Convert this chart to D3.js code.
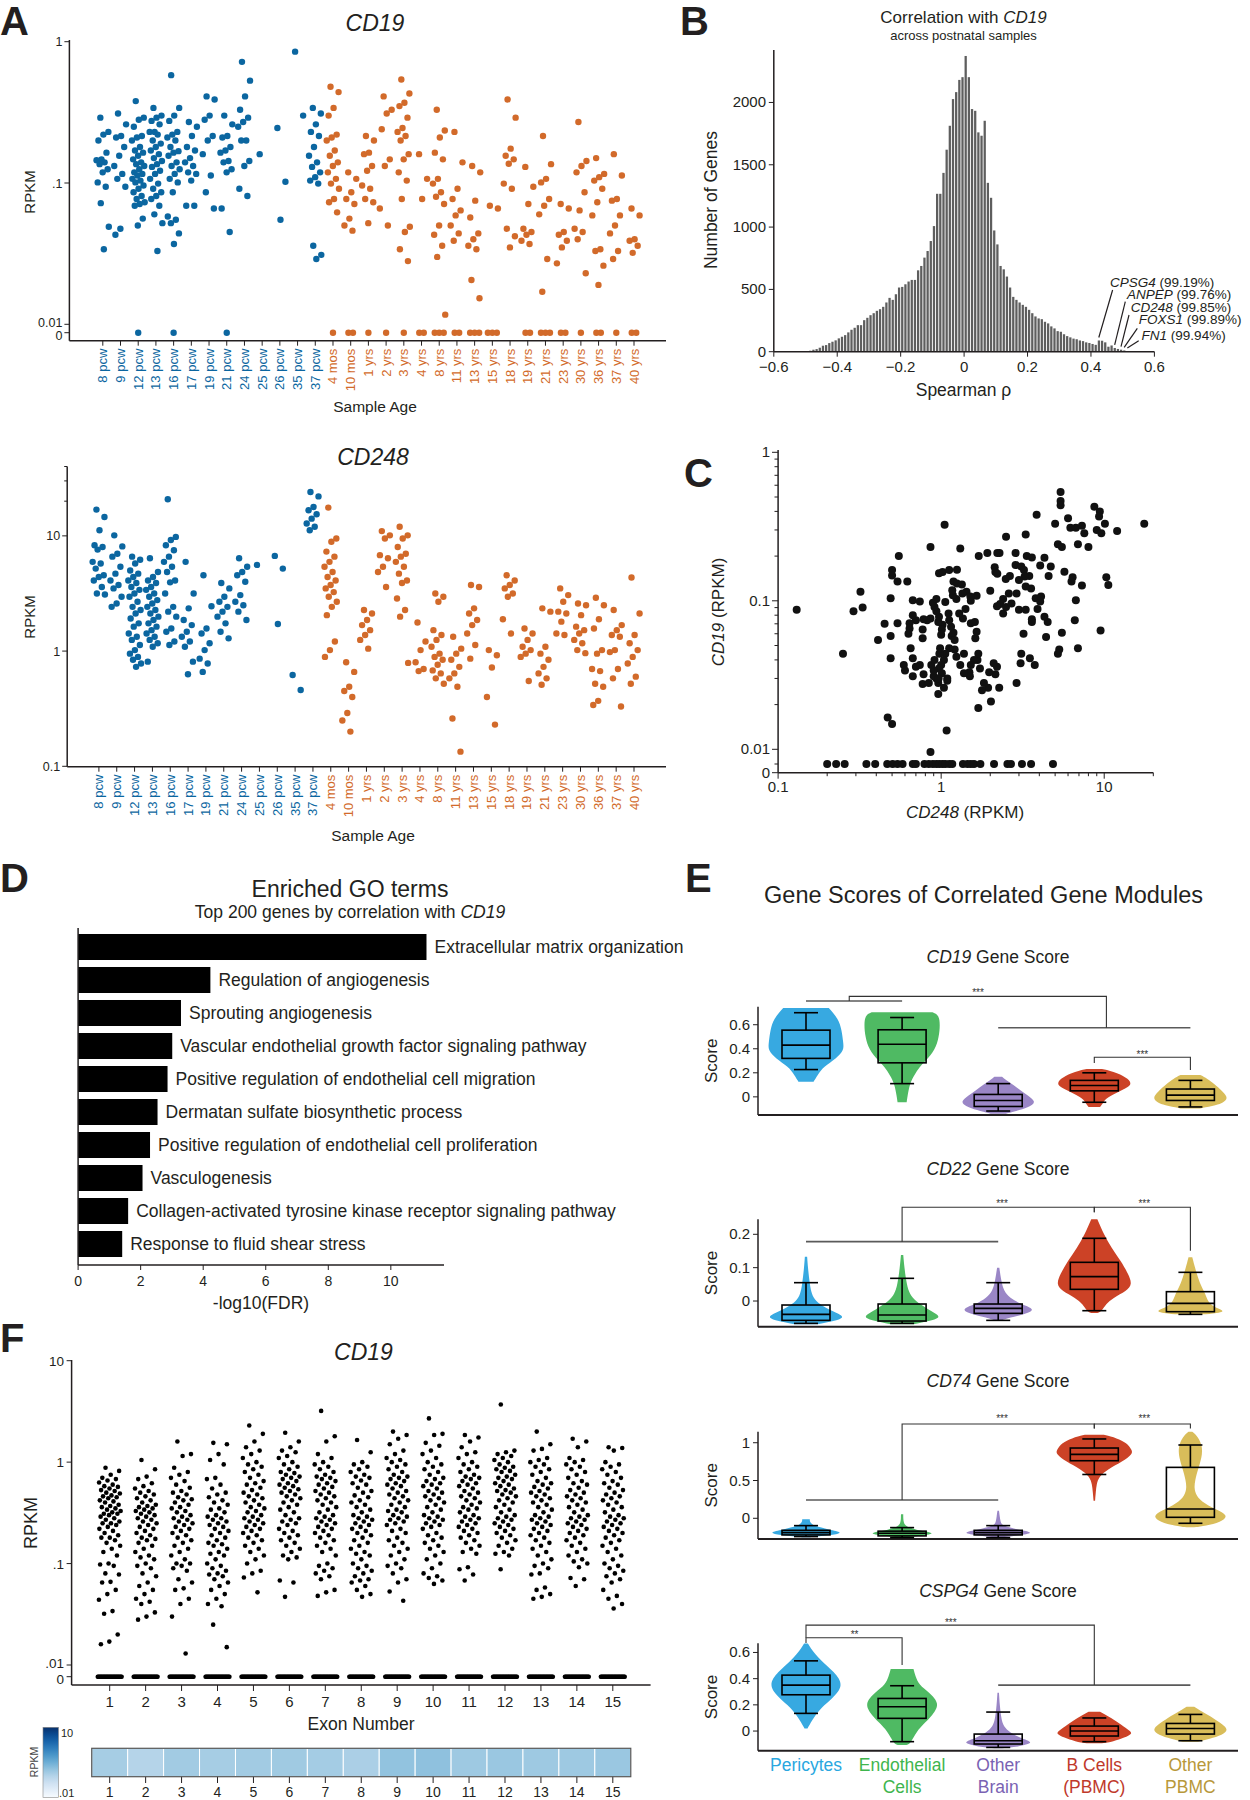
<!DOCTYPE html>
<html><head><meta charset="utf-8">
<script src="https://cdn.jsdelivr.net/npm/d3@7"></script>
<style>html,body{margin:0;padding:0;background:#fff;}svg{display:block;font-family:"Liberation Sans",Arial,Helvetica,sans-serif;}</style>
</head><body>
<svg id="fig" width="1250" height="1800"></svg>
<script>
// ===================== DATA =====================
const ageLabels=["8 pcw","9 pcw","12 pcw","13 pcw","16 pcw","17 pcw","19 pcw","21 pcw","24 pcw","25 pcw","26 pcw","35 pcw","37 pcw","4 mos","10 mos","1 yrs","2 yrs","3 yrs","4 yrs","8 yrs","11 yrs","13 yrs","15 yrs","18 yrs","19 yrs","21 yrs","23 yrs","30 yrs","36 yrs","37 yrs","40 yrs"];
const cd19ByAge=[
[0.29,0.23,0.22,0.20,0.164,0.147,0.145,0.14,0.136,0.125,0.119,0.101,0.094,0.072,0.049,0.034],
[0.31,0.26,0.215,0.21,0.18,0.156,0.132,0.116,0.107,0.094,0.0475,0.043],
[0.38,0.29,0.28,0.25,0.215,0.21,0.20,0.18,0.17,0.164,0.156,0.147,0.14,0.136,0.132,0.125,0.119,0.116,0.113,0.107,0.104,0.101,0.096,0.091,0.086,0.081,0.077,0.073,0.071,0.069,0.056,0.05],
[0.34,0.30,0.29,0.275,0.26,0.23,0.23,0.22,0.20,0.19,0.18,0.17,0.16,0.15,0.143,0.136,0.13,0.122,0.116,0.107,0.099,0.091,0.086,0.081,0.077,0.069,0.06,0.052,0.033],
[0.58,0.34,0.30,0.275,0.23,0.22,0.21,0.20,0.18,0.168,0.164,0.156,0.14,0.132,0.125,0.116,0.107,0.101,0.086,0.058,0.055,0.052,0.044,0.037],
[0.27,0.25,0.215,0.18,0.17,0.15,0.14,0.132,0.119,0.116,0.104,0.069,0.069],
[0.41,0.39,0.30,0.28,0.215,0.20,0.16,0.113,0.086,0.066],
[0.30,0.26,0.215,0.21,0.18,0.17,0.164,0.143,0.14,0.125,0.119,0.066,0.045],
[0.72,0.53,0.41,0.33,0.29,0.27,0.25,0.20,0.20,0.143,0.132,0.091,0.081],
[0.16],
[0.245,0.102,0.055],
[0.85,0.30],
[0.34,0.31,0.26,0.23,0.215,0.18,0.156,0.14,0.13,0.119,0.11,0.104,0.099,0.036,0.031,0.029],
[0.48,0.44,0.34,0.30,0.22,0.21,0.20,0.17,0.156,0.14,0.132,0.119,0.107,0.099,0.091,0.077,0.073,0.062],
[0.119,0.107,0.086,0.077,0.071,0.056,0.05,0.046],
[0.215,0.20,0.164,0.16,0.132,0.122,0.096,0.091,0.077,0.073,0.052],
[0.41,0.33,0.31,0.24,0.147,0.132,0.066,0.05],
[0.54,0.43,0.37,0.35,0.29,0.245,0.23,0.215,0.20,0.16,0.147,0.119,0.104,0.077,0.049,0.045,0.034,0.028],
[0.16,0.107,0.077],
[0.33,0.235,0.21,0.164,0.147,0.107,0.099,0.086,0.08,0.071,0.05,0.043,0.036,0.03,0.0117],
[0.23,0.14,0.091,0.077,0.064,0.059,0.05,0.044,0.039],
[0.132,0.119,0.075,0.057,0.044,0.04,0.036,0.034,0.0206,0.0153],
[0.069,0.066],
[0.39,0.29,0.175,0.156,0.147,0.137,0.099,0.091,0.0475,0.042,0.035],
[0.13,0.094,0.071,0.0475,0.045,0.043,0.039,0.037],
[0.215,0.136,0.107,0.101,0.077,0.069,0.06,0.029,0.017],
[0.071,0.066,0.045,0.043,0.039,0.035,0.027],
[0.27,0.143,0.132,0.119,0.086,0.064,0.0475,0.045,0.04,0.023],
[0.15,0.116,0.11,0.104,0.091,0.073,0.059,0.034,0.033,0.026,0.019],
[0.16,0.113,0.077,0.075,0.059,0.05,0.044,0.033,0.029],
[0.066,0.059,0.04,0.039,0.036,0.032]];
const cd19ZeroCounts=[0,0,1,0,1,0,0,1,0,0,0,0,0,1,2,1,1,1,2,3,2,3,3,0,2,3,2,1,2,1,2];
const cd248ByAge=[
[16.9,14.6,11.2,8.3,8.0,7.6,5.95,5.75,5.2,4.55,4.4,4.1,3.6,3.16,3.1],
[10.1,8.1,7.0,6.6,5.4,4.7,4.1,3.75,3.5,2.96,2.59,2.42],
[6.6,6.2,5.75,5.0,4.7,4.4,4.1,3.9,3.6,3.4,3.16,2.96,2.68,2.42,2.27,2.12,1.92,1.74,1.63,1.42,1.33,1.25,1.13,1.02,0.95,0.89,0.84,0.78,0.73],
[6.4,4.85,4.4,4.1,3.9,3.6,3.4,3.16,2.96,2.77,2.59,2.42,2.27,2.12,1.99,1.86,1.74,1.63,1.52,1.42,1.33,1.25,1.17,1.09,0.81],
[20.8,9.8,9.2,8.3,7.5,6.6,5.95,5.4,4.85,4.1,3.95,3.16,2.42,2.2,1.99,1.57,1.47,1.21,1.13],
[5.95,3.16,2.35,1.86,1.68,1.47,1.33,1.21,1.09,0.81,0.63],
[4.55,2.45,1.57,1.42,1.17,1.02,0.86,0.78,0.66],
[3.9,3.5,2.96,2.68,2.42,2.2,1.99,1.74,1.47,1.29],
[6.4,5.4,4.85,4.55,4.0,3.06,2.68,2.5,2.2,1.86],
[5.6],
[6.7,5.2,1.72],
[0.62,0.46],
[24.0,22.0,17.8,16.7,15.4,14.1,12.8,12.0,11.2],
[17.6,9.5,8.9,7.3,6.6,5.95,5.4,4.85,4.4,4.1,3.75,3.5,3.25,2.96,2.68,2.42,2.05,1.21,1.02,0.89],
[0.80,0.66,0.49,0.45,0.40,0.29,0.25,0.20],
[2.27,2.12,1.86,1.68,1.52,1.38,1.25,1.05],
[11.0,10.1,9.5,6.8,6.4,5.4,4.85,3.6],
[12.0,10.1,9.5,8.0,7.0,6.6,5.95,5.4,4.7,4.1,3.9,2.86,2.27,1.99,0.79],
[1.77,1.21,1.02,0.80,0.70,0.67],
[3.16,2.96,2.68,1.52,1.38,1.25,1.09,0.95,0.89,0.84,0.76,0.68,0.64,0.58,0.52],
[1.33,1.05,0.95,0.84,0.73,0.64,0.58,0.49,0.26,0.134],
[3.75,3.6,2.35,2.12,1.86,1.68,1.42,1.13,0.86],
[1.02,0.92,0.72,0.40,0.23],
[4.55,4.1,3.75,3.5,3.16,2.96,1.89,1.42],
[1.57,1.42,1.25,1.09,1.02,0.95,0.89,0.55],
[2.35,2.2,1.09,0.95,0.84,0.73,0.64,0.58,0.51],
[3.5,3.06,2.68,2.2,2.12,1.8,1.42,1.38],
[2.59,2.5,2.05,1.63,1.52,1.42,1.25,1.17,1.02,0.96],
[2.9,2.5,1.89,1.57,1.02,0.95,0.70,0.67,0.52,0.49,0.37,0.34],
[2.27,1.68,1.52,1.38,1.33,1.02,0.98,0.70,0.58,0.33],
[4.35,2.12,1.38,1.17,1.02,0.89,0.78,0.60,0.52]];

const rhoBinStart=[-0.50,-0.49,-0.48,-0.47,-0.46,-0.45,-0.44,-0.43,-0.42,-0.41,-0.40,-0.39,-0.38,-0.37,-0.36,-0.35,-0.34,-0.33,-0.32,-0.31,-0.30,-0.29,-0.28,-0.27,-0.26,-0.25,-0.24,-0.23,-0.22,-0.21,-0.20,-0.19,-0.18,-0.17,-0.16,-0.15,-0.14,-0.13,-0.12,-0.11,-0.10,-0.09,-0.08,-0.07,-0.06,-0.05,-0.04,-0.03,-0.02,-0.01,0.00,0.01,0.02,0.03,0.04,0.05,0.06,0.07,0.08,0.09,0.10,0.11,0.12,0.13,0.14,0.15,0.16,0.17,0.18,0.19,0.20,0.21,0.22,0.23,0.24,0.25,0.26,0.27,0.28,0.29,0.30,0.31,0.32,0.33,0.34,0.35,0.36,0.37,0.38,0.39,0.40,0.41,0.42,0.43,0.44,0.45,0.46,0.47,0.48,0.49,0.50,0.51];
const geneCounts=[4,8,16,21,32,48,53,69,80,91,107,120,133,155,176,192,213,213,253,272,293,309,328,341,360,395,432,416,461,515,520,541,563,576,576,653,688,755,808,888,1008,1267,1267,1435,1621,1813,2027,2083,2181,2203,2373,2203,1947,1933,1760,1733,1853,1355,1235,973,861,688,661,603,515,440,416,395,376,360,336,309,283,267,261,240,227,203,187,165,160,140,125,115,105,100,90,85,75,70,62,55,90,88,75,40,50,30,22,16,10,5];
const annoGenes=["CPSG4","ANPEP","CD248","FOXS1","FN1"];
const annoPct=["(99.19%)","(99.76%)","(99.85%)","(99.89%)","(99.94%)"];
const annoRho=[0.42,0.47,0.49,0.50,0.51];

const cd248Rpkm=[5.4,5.4,5.4,3.85,5.0,6.0,6.2,6.7,7.3,7.55,8.7,9.4,9.3,10.1,9.0,9.6,12.0,17.6,6.9,5.2,5.5,8.0,2.5,3.3,1.31,1.05,0.86,0.55,1.70,1.92,2.28,2.21,2.86,3.35,3.6,4.3,4.7,4.05,2.13,2.86,3.1,2.15,2.21,2.64,3.47,4.56,3.22,2.49,5.7,6.4,6.3,7.3,10.3,10.6,6.7,6.6,9.5,5.5,5.3,5.2,6.9,4.4,4.5,4.3,3.9,4.05,3.8,4.1,3.56,3.3,3.25,3.0,2.9,2.6,2.4,2.3,2.2,2.0,2.4,2.5,2.7,3.0,3.3,3.6,3.6,3.2,3.1,3.07,3.5,3.75,2.9,2.27,2.15,2.2,2.1,1.97,1.94,1.78,1.69,2.02,1.83,1.73,1.67,1.59,1.52,1.49,1.50,1.38,1.31,1.24,1.21,1.12,1.06,1.04,1.0,0.97,1.01,1.09,0.96,0.935,0.90,0.90,0.87,0.91,0.975,0.985,1.16,1.19,1.36,1.29,1.41,1.52,1.65,1.52,1.61,1.62,1.65,1.69,1.38,1.21,1.15,1.12,1.02,1.01,1.0,0.96,0.97,0.935,0.91,0.89,0.935,0.97,1.02,1.12,1.25,1.19,1.25,1.34,1.43,1.51,1.35,1.24,1.18,1.17,1.11,1.06,0.86,0.82,0.78,0.77,0.77,0.67,0.74,0.70,0.67,0.64,0.64,0.63,0.65,0.67,0.59,0.60,0.67,0.77,0.78,0.84,0.965,1.09,1.04,0.96,0.74,0.70,0.62,0.54,0.50,0.50,0.49,0.54,0.49,0.49,0.45,0.41,0.33,0.32,0.29,0.25,0.13,0.47,0.50,1.08,0.86];
const cd19Rpkm=[0.54,0.47,0.44,0.38,0.33,0.36,0.31,0.31,0.32,0.285,0.43,0.40,0.37,0.33,0.30,0.285,0.295,0.33,0.24,0.24,0.23,0.23,0.27,0.28,0.225,0.325,0.23,0.20,0.20,0.21,0.21,0.21,0.21,0.20,0.196,0.195,0.17,0.173,0.168,0.174,0.17,0.156,0.152,0.147,0.147,0.147,0.161,0.14,0.157,0.144,0.135,0.127,0.144,0.128,0.101,0.074,0.063,0.061,0.047,0.044,0.048,0.057,0.072,0.078,0.088,0.099,0.104,0.107,0.121,0.125,0.146,0.138,0.112,0.112,0.103,0.095,0.092,0.117,0.082,0.091,0.096,0.087,0.087,0.075,0.072,0.060,0.044,0.038,0.041,0.037,0.028,0.026,0.032,0.036,0.038,0.033,0.026,0.025,0.019,0.021,0.028,0.035,0.040,0.040,0.037,0.033,0.031,0.0325,0.037,0.042,0.047,0.048,0.044,0.040,0.037,0.035,0.0325,0.030,0.028,0.030,0.031,0.034,0.037,0.040,0.044,0.048,0.058,0.061,0.076,0.082,0.088,0.100,0.108,0.0705,0.072,0.056,0.062,0.044,0.044,0.0545,0.067,0.074,0.069,0.064,0.059,0.072,0.078,0.085,0.091,0.097,0.103,0.153,0.156,0.161,0.162,0.135,0.131,0.129,0.115,0.107,0.112,0.103,0.109,0.118,0.082,0.098,0.076,0.074,0.075,0.064,0.056,0.101,0.099,0.074,0.080,0.0705,0.065,0.060,0.048,0.041,0.037,0.034,0.031,0.0275,0.032,0.028,0.030,0.029,0.026,0.0236,0.037,0.036,0.135,0.135,0.161,0.148,0.104,0.0705,0.058,0.041,0.070,0.0545,0.090,0.115,0.085,0.044,0.087,0.0164,0.0148,0.0134,0.0096];
const cd248AtZeroCd19=[0.20,0.227,0.256,0.348,0.394,0.467,0.504,0.54,0.58,0.67,0.70,0.79,0.84,0.89,0.935,0.975,1.02,1.06,1.12,1.17,1.36,1.45,1.52,1.59,1.74,2.11,2.55,2.68,3.13,3.56,4.85];

const goTerms=["Extracellular matrix organization","Regulation of angiogenesis","Sprouting angiogenesis","Vascular endothelial growth factor signaling pathway","Positive regulation of endothelial cell migration","Dermatan sulfate biosynthetic process","Positive regulation of endothelial cell proliferation","Vasculogenesis","Collagen-activated tyrosine kinase receptor signaling pathway","Response to fluid shear stress"];
const goLogFdr=[11.14,4.23,3.29,3.01,2.86,2.54,2.30,2.06,1.60,1.41];

const cellGroups=["Pericytes","Endothelial Cells","Other Brain","B Cells (PBMC)","Other PBMC"];
const groupLabelLines=[["Pericytes"],["Endothelial","Cells"],["Other","Brain"],["B Cells","(PBMC)"],["Other","PBMC"]];
const groupFill=["#37a9e1","#4fba63","#9a86c6","#cc4226","#d9bd5a"];
const groupText=["#2aa7df","#3fb54d","#7a62b3","#c0392b","#b8983a"];
const moduleGenes=["CD19","CD22","CD74","CSPG4"];
// box stats: [lowWhisker, q1, median, q3, highWhisker]
const cd19ScoreBox=[[0.227,0.32,0.43,0.555,0.70],[0.11,0.283,0.437,0.558,0.66],[-0.118,-0.08,-0.03,0.02,0.11],[-0.045,0.05,0.095,0.137,0.20],[-0.084,-0.03,0.014,0.065,0.137]];
const cd22ScoreBox=[[-0.067,-0.058,-0.04,-0.012,0.055],[-0.067,-0.06,-0.042,-0.009,0.068],[-0.058,-0.037,-0.022,-0.009,0.055],[-0.029,0.035,0.073,0.116,0.188],[-0.04,-0.032,-0.007,0.028,0.086]];
const cd74ScoreBox=[[-0.242,-0.22,-0.19,-0.159,-0.097],[-0.255,-0.233,-0.198,-0.17,-0.123],[-0.255,-0.22,-0.19,-0.159,-0.097],[0.58,0.762,0.846,0.93,1.05],[-0.066,0.013,0.123,0.674,0.97]];
const cspg4ScoreBox=[[0.135,0.277,0.351,0.427,0.536],[-0.081,0.097,0.186,0.249,0.346],[-0.125,-0.099,-0.074,-0.023,0.145],[-0.081,-0.038,0,0.038,0.10],[-0.074,-0.023,0.02,0.058,0.127]];
// violin outlines: [score, relative density]
const cd19ScoreViolin=[
[[0.74,0.6],[0.65,0.85],[0.556,0.94],[0.45,0.98],[0.39,1.0],[0.32,0.8],[0.25,0.46],[0.18,0.3],[0.126,0.2]],
[[0.703,0.8],[0.68,0.97],[0.6,1.0],[0.5,0.97],[0.39,0.87],[0.3,0.62],[0.25,0.46],[0.18,0.32],[0.11,0.2],[0.0,0.14],[-0.045,0.12]],
[[0.168,0.1],[0.14,0.2],[0.1,0.4],[0.05,0.6],[0.015,0.77],[-0.04,1.0],[-0.08,0.85],[-0.11,0.57],[-0.14,0.2]],
[[0.232,0.2],[0.2,0.62],[0.15,0.9],[0.1,1.0],[0.06,0.75],[0.017,0.48],[-0.025,0.26],[-0.06,0.22],[-0.085,0.15]],
[[0.182,0.26],[0.15,0.45],[0.112,0.61],[0.043,0.86],[-0.012,1.0],[-0.05,0.85],[-0.068,0.7],[-0.096,0.26]]];
const cd22ScoreViolin=[
[[0.133,0.03],[0.1,0.05],[0.05,0.1],[0.02,0.15],[0,0.25],[-0.02,0.5],[-0.04,0.9],[-0.05,1.0],[-0.06,0.75],[-0.07,0.3]],
[[0.138,0.03],[0.1,0.06],[0.05,0.12],[0.02,0.2],[0,0.35],[-0.02,0.62],[-0.04,0.92],[-0.05,1.0],[-0.06,0.72],[-0.07,0.3]],
[[0.10,0.03],[0.06,0.08],[0.03,0.15],[0.01,0.3],[-0.01,0.6],[-0.025,1.0],[-0.04,0.7],[-0.05,0.3],[-0.058,0.08]],
[[0.245,0.08],[0.2,0.25],[0.16,0.45],[0.12,0.7],[0.08,0.9],[0.05,1.0],[0.03,0.85],[0.01,0.5],[-0.01,0.3],[-0.03,0.2],[-0.036,0.08]],
[[0.131,0.05],[0.1,0.12],[0.07,0.2],[0.04,0.3],[0.02,0.4],[0,0.45],[-0.02,0.62],[-0.032,1.0],[-0.04,0.4]]];
const cd74ScoreViolin=[
[[-0.013,0.1],[-0.05,0.1],[-0.1,0.2],[-0.15,0.6],[-0.19,1.0],[-0.22,0.7],[-0.25,0.1]],
[[0.053,0.03],[0.0,0.03],[-0.05,0.04],[-0.1,0.08],[-0.15,0.3],[-0.2,1.0],[-0.24,0.35],[-0.25,0.1]],
[[0.1,0.02],[0.03,0.04],[-0.05,0.06],[-0.1,0.12],[-0.15,0.5],[-0.19,1.0],[-0.23,0.5],[-0.25,0.1]],
[[1.106,0.25],[1.06,0.6],[1.0,0.85],[0.9,1.0],[0.85,1.0],[0.75,0.75],[0.65,0.35],[0.55,0.12],[0.45,0.06],[0.35,0.04],[0.233,0.02]],
[[1.145,0.05],[1.08,0.2],[0.95,0.32],[0.8,0.3],[0.65,0.2],[0.5,0.12],[0.4,0.1],[0.3,0.15],[0.2,0.35],[0.1,0.75],[0.03,1.0],[-0.05,0.8],[-0.1,0.4],[-0.12,0.1]]];
const cspg4ScoreViolin=[
[[0.669,0.05],[0.62,0.15],[0.55,0.35],[0.45,0.75],[0.35,1.0],[0.25,0.7],[0.18,0.4],[0.1,0.2],[0.05,0.1],[0.02,0.04]],
[[0.473,0.3],[0.42,0.35],[0.35,0.45],[0.3,0.7],[0.21,1.0],[0.12,0.8],[0.05,0.55],[0,0.4],[-0.05,0.3],[-0.1,0.2],[-0.107,0.1]],
[[0.292,0.02],[0.2,0.04],[0.1,0.08],[0.05,0.12],[0,0.25],[-0.05,0.55],[-0.09,1.0],[-0.12,0.5],[-0.132,0.1]],
[[0.147,0.15],[0.1,0.45],[0.05,0.7],[0,0.95],[-0.02,1.0],[-0.05,0.8],[-0.08,0.5],[-0.094,0.2]],
[[0.186,0.1],[0.15,0.3],[0.1,0.6],[0.05,0.85],[0.01,1.0],[-0.03,0.85],[-0.06,0.5],[-0.081,0.2]]];
const cd19ScoreTicks=[0,0.2,0.4,0.6], cd22ScoreTicks=[0,0.1,0.2], cd74ScoreTicks=[0,0.5,1], cspg4ScoreTicks=[0,0.2,0.4,0.6];

const exonLabels=["1","2","3","4","5","6","7","8","9","10","11","12","13","14","15"];
const exonRpkm=[
[.88,.82,.75,.7,.68,.66,.63,.6,.58,.57,.55,.53,.52,.5,.49,.47,.46,.45,.44,.42,.41,.4,.38,.37,.36,.35,.34,.33,.32,.31,.31,.3,.29,.28,.27,.26,.25,.25,.24,.23,.22,.21,.2,.19,.18,.18,.17,.16,.15,.14,.13,.12,.1,.098,.095,.08,.078,.066,.065,.055,.05,.044,.034,.032,.02,.017,.016],
[1.05,.85,.72,.68,.62,.58,.55,.52,.5,.48,.46,.44,.42,.4,.38,.37,.36,.35,.34,.33,.32,.31,.3,.29,.28,.27,.26,.25,.24,.23,.22,.21,.2,.19,.18,.175,.17,.16,.15,.14,.13,.12,.115,.11,.1,.095,.09,.08,.075,.065,.06,.055,.05,.045,.042,.04,.033,.03,.028],
[1.6,1.2,1.15,.88,.8,.75,.7,.65,.6,.56,.52,.5,.48,.45,.43,.42,.4,.38,.36,.35,.33,.32,.3,.29,.28,.27,.26,.25,.24,.23,.22,.21,.2,.19,.18,.17,.16,.15,.14,.13,.12,.11,.1,.1,.095,.09,.085,.07,.065,.057,.055,.045,.04,.03,.013],
[1.55,1.5,1.2,1.05,.95,.7,.68,.6,.55,.5,.48,.45,.42,.4,.38,.35,.34,.32,.3,.29,.28,.27,.26,.25,.24,.23,.22,.21,.2,.19,.18,.17,.16,.155,.15,.14,.13,.125,.12,.11,.1,.095,.09,.085,.08,.078,.075,.07,.065,.06,.055,.05,.045,.04,.038,.025,.015],
[2.3,1.9,1.6,1.4,1.3,1.2,1.1,1.0,.95,.9,.85,.8,.75,.7,.65,.62,.6,.56,.53,.5,.48,.46,.44,.42,.4,.38,.36,.35,.33,.32,.3,.29,.28,.27,.26,.25,.24,.23,.22,.21,.2,.19,.18,.17,.16,.15,.14,.13,.12,.11,.1,.085,.08,.073,.052],
[1.95,1.6,1.4,1.3,1.25,1.15,1.1,1.0,.95,.9,.85,.8,.78,.75,.72,.7,.68,.65,.62,.6,.58,.56,.54,.52,.5,.48,.46,.44,.42,.4,.38,.36,.34,.32,.3,.28,.27,.26,.25,.24,.22,.21,.2,.19,.18,.17,.16,.15,.14,.13,.12,.115,.11,.068,.065,.047],
[3.2,1.8,1.6,1.2,1.1,1.0,.95,.9,.85,.8,.75,.72,.7,.68,.65,.62,.6,.57,.55,.52,.5,.48,.46,.44,.42,.4,.38,.36,.34,.32,.3,.29,.28,.27,.26,.25,.24,.23,.22,.21,.2,.19,.18,.17,.16,.15,.14,.13,.12,.1,.095,.09,.085,.08,.075,.07,.055,.052,.048],
[1.65,1.25,1.0,.95,.9,.85,.8,.75,.72,.7,.66,.62,.6,.56,.52,.5,.47,.45,.42,.4,.38,.36,.34,.32,.3,.29,.28,.27,.26,.25,.24,.23,.22,.21,.2,.19,.18,.17,.16,.15,.14,.13,.125,.12,.11,.1,.095,.09,.085,.08,.075,.07,.068,.065,.06,.055,.05,.047],
[2.0,1.85,1.7,1.5,1.3,1.2,1.1,1.05,1.0,.95,.9,.85,.8,.75,.72,.7,.68,.65,.62,.6,.58,.55,.52,.5,.48,.46,.44,.42,.4,.38,.36,.34,.33,.32,.3,.29,.28,.27,.26,.25,.24,.22,.21,.2,.18,.17,.16,.15,.14,.13,.12,.11,.1,.095,.09,.08,.07,.065,.053,.043],
[2.7,1.9,1.85,1.55,1.45,1.3,1.2,1.1,1.0,.95,.9,.85,.8,.75,.7,.68,.65,.62,.6,.58,.55,.52,.5,.48,.46,.44,.42,.4,.38,.36,.34,.32,.3,.29,.28,.27,.26,.25,.24,.23,.22,.2,.19,.18,.17,.16,.15,.14,.13,.12,.11,.1,.09,.08,.075,.072,.068,.063],
[1.85,1.75,1.6,1.4,1.25,1.2,1.1,1.0,.95,.9,.85,.8,.75,.72,.7,.68,.65,.62,.6,.58,.55,.52,.5,.48,.46,.44,.42,.4,.38,.36,.35,.34,.32,.3,.29,.28,.27,.26,.25,.24,.23,.22,.21,.2,.19,.18,.17,.16,.15,.14,.13,.125,.092,.088,.078,.068],
[3.7,1.3,1.25,1.2,1.15,1.1,1.05,1.0,.95,.9,.88,.85,.82,.8,.75,.72,.7,.68,.65,.62,.6,.58,.55,.53,.52,.5,.48,.46,.44,.42,.4,.38,.36,.34,.32,.3,.29,.28,.27,.26,.25,.24,.23,.22,.21,.2,.19,.18,.17,.16,.15,.14,.13,.125,.12,.088],
[2.0,1.5,1.35,1.3,1.1,1.05,1.0,.95,.9,.85,.8,.75,.7,.65,.62,.6,.57,.55,.52,.5,.48,.46,.44,.42,.4,.38,.36,.34,.32,.3,.29,.28,.27,.26,.25,.24,.23,.22,.21,.2,.19,.18,.17,.16,.15,.14,.13,.12,.11,.1,.095,.09,.08,.078,.058,.055,.05,.047,.045],
[1.7,1.6,1.4,1.1,1.05,1.0,.95,.9,.85,.8,.75,.7,.65,.62,.6,.56,.53,.5,.48,.46,.44,.42,.4,.38,.36,.34,.32,.3,.29,.28,.27,.26,.25,.24,.23,.22,.21,.2,.19,.18,.17,.16,.15,.14,.13,.12,.11,.105,.1,.092,.072,.07,.06],
[1.4,1.38,1.3,1.0,.95,.9,.85,.8,.75,.7,.65,.62,.6,.56,.53,.5,.48,.46,.44,.42,.4,.38,.36,.34,.32,.3,.29,.28,.27,.26,.25,.24,.23,.22,.21,.2,.19,.18,.17,.16,.15,.14,.13,.12,.11,.1,.095,.09,.085,.08,.075,.07,.065,.055,.048,.045,.04,.036]];
const exonZeroCounts=[30,30,30,30,30,30,30,30,32,30,32,30,30,30,30];
const exonHeat=[0.11,0.08,0.12,0.11,0.12,0.125,0.115,0.10,0.16,0.17,0.13,0.14,0.13,0.13,0.14];

// ===================== DRAWING =====================
const svg=d3.select("#fig");
svg.append("rect").attr("width",1250).attr("height",1800).attr("fill","#fff");
const INK="#231f20", BLUE="#0b66a0", ORANGE="#d26a2a";
const GOLD=0.6180339887;
const jit=(i,w)=>(((i*GOLD+0.31)%1)-0.5)*w;
function T(g,x,y,parts,size,o={}){
  const t=g.append("text").attr("x",x).attr("y",y).attr("font-size",size)
    .attr("text-anchor",o.anchor||"start").attr("fill",o.fill||INK);
  if(o.weight) t.attr("font-weight",o.weight);
  if(o.transform) t.attr("transform",o.transform);
  if(typeof parts==="string") parts=[[parts,false]];
  parts.forEach(([s,it])=>{const ts=t.append("tspan").text(s); if(it) ts.attr("font-style","italic");});
  return t;
}
function L(g,x1,y1,x2,y2,stroke=INK,w=1){
  return g.append("line").attr("x1",x1).attr("y1",y1).attr("x2",x2).attr("y2",y2).attr("stroke",stroke).attr("stroke-width",w);
}
// panel letters
[["A",0,35],["B",680,35],["C",684,487],["D",0,892],["E",685,892],["F",0,1352]].forEach(([s,x,y])=>T(svg,x,y,s,40,{weight:"bold"}));

// ---------- Panel A ----------
function drawAge(o){
  const g=svg.append("g");
  const x=d3.scalePoint().domain(ageLabels).range(o.xRange);
  const y=d3.scaleLog().domain(o.yDomain).range(o.yRange);
  L(g,o.axX,o.top,o.axX,o.bottom,INK,1.5);
  L(g,o.axX,o.bottom,o.right,o.bottom,INK,1.5);
  o.yTicks.forEach((v,i)=>{const yy=y(v);L(g,o.axX-5,yy,o.axX,yy);T(g,o.axX-7,yy+(v===0.01?2.5:4.5),o.yTickLabels[i],12.5,{anchor:"end"});});
  (o.minor||[]).forEach(v=>L(g,o.axX-3,y(v),o.axX,y(v)));
  if(o.zeroY!=null){L(g,o.axX-5,o.zeroY,o.axX,o.zeroY);T(g,o.axX-7,o.zeroY+7,"0",12.5,{anchor:"end"});}
  ageLabels.forEach((lab,ci)=>{
    const c=lab.includes("pcw")?BLUE:ORANGE, cx=x(lab);
    L(g,cx,o.bottom,cx,o.bottom+5);
    T(g,0,0,lab,13,{anchor:"end",fill:c,transform:`translate(${cx+4.5},${o.bottom+8}) rotate(-90)`});
    o.data[ci].forEach((v,i)=>g.append("circle").attr("cx",cx+jit(i,o.jw)).attr("cy",y(v)).attr("r",3.2).attr("fill",c));
    const nz=o.zeros?o.zeros[ci]:0;
    for(let j=0;j<nz;j++) g.append("circle").attr("cx",cx+(j-(nz-1)/2)*4.5).attr("cy",o.zeroY).attr("r",3.2).attr("fill",c);
  });
  T(g,o.titleX,o.titleY,[[o.title,true]],23,{anchor:"middle"});
  T(g,o.titleX,o.xTitleY,"Sample Age",15.5,{anchor:"middle"});
  T(g,0,0,"RPKM",15,{anchor:"middle",transform:`translate(35,${o.yTitleY}) rotate(-90)`});
}
drawAge({data:cd19ByAge,zeros:cd19ZeroCounts,xRange:[102.8,634],yDomain:[0.01,1],yRange:[324.3,41.7],
  axX:69.4,top:40,bottom:340.7,right:666,yTicks:[1,0.1,0.01],yTickLabels:["1",".1","0.01"],zeroY:332.7,jw:13,
  title:"CD19",titleX:375,titleY:31,xTitleY:412,yTitleY:192});
drawAge({data:cd248ByAge,xRange:[98.9,634],yDomain:[0.1,40],yRange:[766.3,466.5],
  axX:67.2,top:466.5,bottom:766.7,right:666,yTicks:[10,1,0.1],yTickLabels:["10","1","0.1"],minor:[20,30,40],jw:13,
  title:"CD248",titleX:373,titleY:465,xTitleY:841,yTitleY:617});

// ---------- Panel B ----------
(function(){
  const g=svg.append("g");
  const x=d3.scaleLinear().domain([-0.6,0.6]).range([773.8,1154.4]);
  const y=d3.scaleLinear().domain([0,2421]).range([351.7,50]);
  rhoBinStart.forEach((b,i)=>{
    const x0=x(b), x1=x(b+0.01);
    g.append("rect").attr("x",x0+0.45).attr("width",Math.max(0.5,x1-x0-0.9)).attr("y",y(geneCounts[i])).attr("height",y(0)-y(geneCounts[i])).attr("fill","#5e5e5e");
  });
  L(g,773.8,50,773.8,351.7,INK,1.5);
  L(g,773.8,351.7,1154.4,351.7,INK,1.5);
  [0,500,1000,1500,2000].forEach(v=>{L(g,768.8,y(v),773.8,y(v));T(g,766,y(v)+5,String(v),15,{anchor:"end"});});
  [-0.6,-0.4,-0.2,0,0.2,0.4,0.6].forEach(v=>{L(g,x(v),351.7,x(v),356.7);T(g,x(v),372,v===0?"0":d3.format(".1f")(v).replace("-","\u2212"),15,{anchor:"middle"});});
  T(g,963.5,23,[["Correlation with ",false],["CD19",true]],17,{anchor:"middle"});
  T(g,963.5,40,"across postnatal samples",13,{anchor:"middle"});
  T(g,963.5,396,"Spearman \u03c1",17.5,{anchor:"middle"});
  T(g,0,0,"Number of Genes",17.5,{anchor:"middle",transform:`translate(717,200) rotate(-90)`});
  const lab=[[1110,286.7,1112.6,290],[1127,299,1125.3,301.7],[1130.7,311.7,1129,315],[1138.7,324.3,1137.3,328.3],[1141.6,340,1138.7,340.7]];
  annoGenes.forEach((gname,i)=>{
    const [tx,ty,lx,ly]=lab[i];
    T(g,tx,ty,[[gname,true],[" "+annoPct[i],false]],13.5,{});
    const bi=rhoBinStart.indexOf(annoRho[i]);
    L(g,lx,ly,x(annoRho[i])+1.5,y(geneCounts[bi])-3,INK,1.2);
  });
})();

// ---------- Panel C ----------
(function(){
  const g=svg.append("g");
  const x=d3.scaleLog().domain([0.1,20]).range([778.1,1153.3]);
  const y=d3.scaleLog().domain([0.01,1]).range([749.3,452.3]);
  const zeroY=764, bottom=772.7;
  L(g,778.1,450,778.1,bottom,INK,1.5);
  L(g,778.1,bottom,1153.3,bottom,INK,1.5);
  [1,0.1,0.01].forEach((v,i)=>{L(g,772,y(v),778.1,y(v));T(g,770,y(v)+5,["1","0.1","0.01"][i],15,{anchor:"end"});});
  [0.02,0.03,0.04,0.05,0.06,0.07,0.08,0.09,0.2,0.3,0.4,0.5,0.6,0.7,0.8,0.9].forEach(v=>L(g,774.5,y(v),778.1,y(v)));
  L(g,774.5,zeroY,778.1,zeroY); L(g,772,bottom,778.1,bottom); T(g,770,bottom+5,"0",15,{anchor:"end"});
  [0.1,1,10].forEach((v,i)=>{L(g,x(v),bottom,x(v),bottom+6);T(g,x(v),bottom+19,["0.1","1","10"][i],15,{anchor:"middle"});});
  [0.2,0.3,0.4,0.5,0.6,0.7,0.8,0.9,2,3,4,5,6,7,8,9,20].forEach(v=>L(g,x(v),bottom,x(v),bottom+3.5));
  cd248Rpkm.forEach((v,i)=>g.append("circle").attr("cx",x(v)).attr("cy",y(cd19Rpkm[i])).attr("r",4).attr("fill","#111"));
  cd248AtZeroCd19.forEach(v=>g.append("circle").attr("cx",x(v)).attr("cy",zeroY).attr("r",4).attr("fill","#111"));
  T(g,965,818,[["CD248",true],[" (RPKM)",false]],17,{anchor:"middle"});
  T(g,0,0,[["CD19",true],[" (RPKM)",false]],17,{anchor:"middle",transform:`translate(724,612) rotate(-90)`});
})();

// ---------- Panel D ----------
(function(){
  const g=svg.append("g");
  const x=d3.scaleLinear().domain([0,11.7]).range([78.1,444]);
  const y=d3.scaleBand().domain(goTerms).range([930.5,1260.5]).paddingInner(0.212).paddingOuter(0.106);
  goTerms.forEach((t,i)=>{
    g.append("rect").attr("x",x(0)).attr("y",y(t)).attr("width",x(goLogFdr[i])-x(0)).attr("height",y.bandwidth()).attr("fill","#000");
    T(g,x(goLogFdr[i])+8,y(t)+y.bandwidth()/2+6.3,t,17.5,{});
  });
  L(g,78.1,928,78.1,1265,INK,1.5);
  L(g,78.1,1265,444,1265,INK,1.5);
  [0,2,4,6,8,10].forEach(v=>{L(g,x(v),1265,x(v),1270);T(g,x(v),1286,String(v),14,{anchor:"middle"});});
  T(g,350,897,"Enriched GO terms",23,{anchor:"middle"});
  T(g,350,918,[["Top 200 genes by correlation with ",false],["CD19",true]],17.5,{anchor:"middle"});
  T(g,261,1309,"-log10(FDR)",17.5,{anchor:"middle"});
})();

// ---------- Panel E ----------
(function(){
  const g=svg.append("g");
  const gx=d3.scalePoint().domain(cellGroups).range([806,1190.4]);
  const idx=i=>806+i*(1190.4-806)/4;
  T(g,983.5,903,"Gene Scores of Correlated Gene Modules",23.5,{anchor:"middle"});
  const mods=[
    {gene:"CD19",box:cd19ScoreBox,vio:cd19ScoreViolin,ticks:cd19ScoreTicks,fmt:d3.format(".1f"),titleY:963.3,dom:[-0.151,0.75],rng:[1115,1006.7],
     gray:[[[0,0.797],[1,0.797]],[[2,0.575],[4,0.575]]],
     brk:[[[0.45,0.797],[0.45,0.836],[3.126,0.836],[3.126,0.575]],[[3,0.282],[3,0.329],[4,0.329],[4,0.223]]],
     stars:[["***",1.79,0.86],["***",3.5,0.35]]},
    {gene:"CD22",box:cd22ScoreBox,vio:cd22ScoreViolin,ticks:cd22ScoreTicks,fmt:d3.format(".1f"),titleY:1175,dom:[-0.077,0.245],rng:[1326.7,1219.3],
     gray:[[[0,0.178],[2,0.178]]],
     brk:[[[1,0.178],[1,0.281],[3,0.281],[3,0.266]],[[3,0.266],[3,0.281],[4,0.281],[4,0.151]]],
     stars:[["***",2.04,0.292],["***",3.52,0.292]]},
    {gene:"CD74",box:cd74ScoreBox,vio:cd74ScoreViolin,ticks:cd74ScoreTicks,fmt:v=>v===0?"0":(v===1?"1":d3.format(".1f")(v)),titleY:1386.7,dom:[-0.274,1.146],rng:[1539,1431.7],
     gray:[[[0,0.242],[2,0.242]]],
     brk:[[[1,0.242],[1,1.247],[3,1.247],[3,1.19]],[[3,1.19],[3,1.247],[4,1.247],[4,1.19]]],
     stars:[["***",2.04,1.31],["***",3.52,1.31]]},
    {gene:"CSPG4",box:cspg4ScoreBox,vio:cspg4ScoreViolin,ticks:cspg4ScoreTicks,fmt:d3.format(".1f"),titleY:1596.7,dom:[-0.15,0.67],rng:[1750.7,1643.3],
     gray:[[[2,0.351],[4,0.351]]],
     brk:[[[0,0.672],[0,0.712],[1,0.712],[1,0.504]],[[0,0.712],[0,0.809],[3,0.809],[3,0.351]]],
     stars:[["**",0.505,0.73],["***",1.507,0.825]]}
  ];
  mods.forEach(m=>{
    const y=d3.scaleLinear().domain(m.dom).range(m.rng);
    T(g,998,m.titleY,[[m.gene,true],[" Gene Score",false]],17.5,{anchor:"middle"});
    const bottom=m.rng[0], top=m.rng[1];
    L(g,758,top,758,bottom,INK,1.5);
    L(g,758,bottom,1238,bottom,INK,2);
    m.ticks.forEach(v=>{L(g,753,y(v),758,y(v));T(g,750,y(v)+5,v===0?"0":m.fmt(v),15,{anchor:"end"});});
    T(g,0,0,"Score",17,{anchor:"middle",transform:`translate(717,${(top+bottom)/2}) rotate(-90)`});
    const line=d3.line().x(d=>idx(d[0])).y(d=>y(d[1]));
    m.gray.forEach(p=>g.append("path").attr("d",line(p)).attr("fill","none").attr("stroke","#5a5a5a").attr("stroke-width",1.6));
    m.brk.forEach(p=>g.append("path").attr("d",line(p)).attr("fill","none").attr("stroke","#333").attr("stroke-width",1.1));
    m.stars.forEach(([s,i,v])=>T(g,idx(i),y(v)+3,s,10,{anchor:"middle",fill:"#333"}));
    cellGroups.forEach((grp,gi)=>{
      const cx=gx(grp);
      const area=d3.area().y(d=>y(d[0])).x0(d=>cx-d[1]*38).x1(d=>cx+d[1]*38).curve(d3.curveBasis);
      g.append("path").attr("d",area(m.vio[gi])).attr("fill",groupFill[gi]);
      const [lo,q1,md,q3,hi]=m.box[gi];
      const bs=g.append("g").attr("stroke","#000").attr("stroke-width",1.6).attr("fill","none");
      bs.append("line").attr("x1",cx).attr("x2",cx).attr("y1",y(hi)).attr("y2",y(q3));
      bs.append("line").attr("x1",cx).attr("x2",cx).attr("y1",y(q1)).attr("y2",y(lo));
      bs.append("line").attr("x1",cx-12).attr("x2",cx+12).attr("y1",y(hi)).attr("y2",y(hi));
      bs.append("line").attr("x1",cx-12).attr("x2",cx+12).attr("y1",y(lo)).attr("y2",y(lo));
      bs.append("rect").attr("x",cx-24).attr("width",48).attr("y",y(q3)).attr("height",y(q1)-y(q3));
      bs.append("line").attr("x1",cx-24).attr("x2",cx+24).attr("y1",y(md)).attr("y2",y(md));
    });
  });
  groupLabelLines.forEach((lines,gi)=>{
    lines.forEach((s,li)=>T(g,gx(cellGroups[gi]),1770.7+li*22,s,17.5,{anchor:"middle",fill:groupText[gi]}));
  });
})();

// ---------- Panel F ----------
(function(){
  const g=svg.append("g");
  const x=d3.scalePoint().domain(exonLabels).range([109.7,612.8]);
  const y=d3.scaleLog().domain([0.01,10]).range([1665,1360.7]);
  const zeroY=1676.7, bottom=1685;
  exonLabels.forEach((e,ei)=>{
    const cx=x(e);
    exonRpkm[ei].forEach((v,i)=>g.append("circle").attr("cx",cx+jit(i,22)).attr("cy",y(v)).attr("r",2.3).attr("fill","#000"));
    const nz=exonZeroCounts[ei];
    for(let j=0;j<nz;j++) g.append("circle").attr("cx",cx-12+j*24/(nz-1)).attr("cy",zeroY).attr("r",2.2).attr("fill","#000");
  });
  L(g,71.6,1360,71.6,bottom,INK,1.5);
  L(g,71.6,bottom,650.6,bottom,INK,1.5);
  [10,1,0.1,0.01].forEach((v,i)=>{L(g,66.6,y(v),71.6,y(v));T(g,64,y(v)+(v===0.01?3:5),["10","1",".1",".01"][i],13.5,{anchor:"end"});});
  L(g,66.6,zeroY,71.6,zeroY); T(g,64,zeroY+7,"0",13.5,{anchor:"end"});
  exonLabels.forEach(e=>{L(g,x(e),bottom,x(e),bottom+6);T(g,x(e),1707,e,15,{anchor:"middle"});});
  T(g,363.5,1360,[["CD19",true]],23,{anchor:"middle"});
  T(g,361,1730,"Exon Number",17.5,{anchor:"middle"});
  T(g,0,0,"RPKM",18,{anchor:"middle",transform:`translate(37,1523) rotate(-90)`});
  // heatmap
  const color=d3.scaleSequentialLog(d3.interpolateBlues).domain([0.01,10]);
  const cw=x.step();
  exonLabels.forEach((e,ei)=>{
    g.append("rect").attr("x",x(e)-cw/2).attr("y",1748.3).attr("width",cw).attr("height",28.4).attr("fill",color(exonHeat[ei])).attr("stroke","#fff").attr("stroke-width",1);
    L(g,x(e),1776.7,x(e),1783);
    T(g,x(e),1797,e,14,{anchor:"middle"});
  });
  g.append("rect").attr("x",x("1")-cw/2).attr("y",1748.3).attr("width",cw*15).attr("height",28.4).attr("fill","none").attr("stroke","#555").attr("stroke-width",1.2);
  // colorbar
  const defs=svg.append("defs");
  const grad=defs.append("linearGradient").attr("id","cbar").attr("x1",0).attr("x2",0).attr("y1",1).attr("y2",0);
  d3.range(0,1.001,0.1).forEach(t=>grad.append("stop").attr("offset",t).attr("stop-color",d3.interpolateBlues(t)));
  g.append("rect").attr("x",43).attr("y",1727.3).attr("width",15.5).attr("height",70).attr("fill","url(#cbar)").attr("stroke","#888").attr("stroke-width",0.6);
  T(g,61,1737,"10",11,{});
  T(g,59,1797,".01",11,{});
  T(g,0,0,"RPKM",10.5,{anchor:"middle",fill:"#444",transform:`translate(38,1762) rotate(-90)`});
})();
</script></body></html>
